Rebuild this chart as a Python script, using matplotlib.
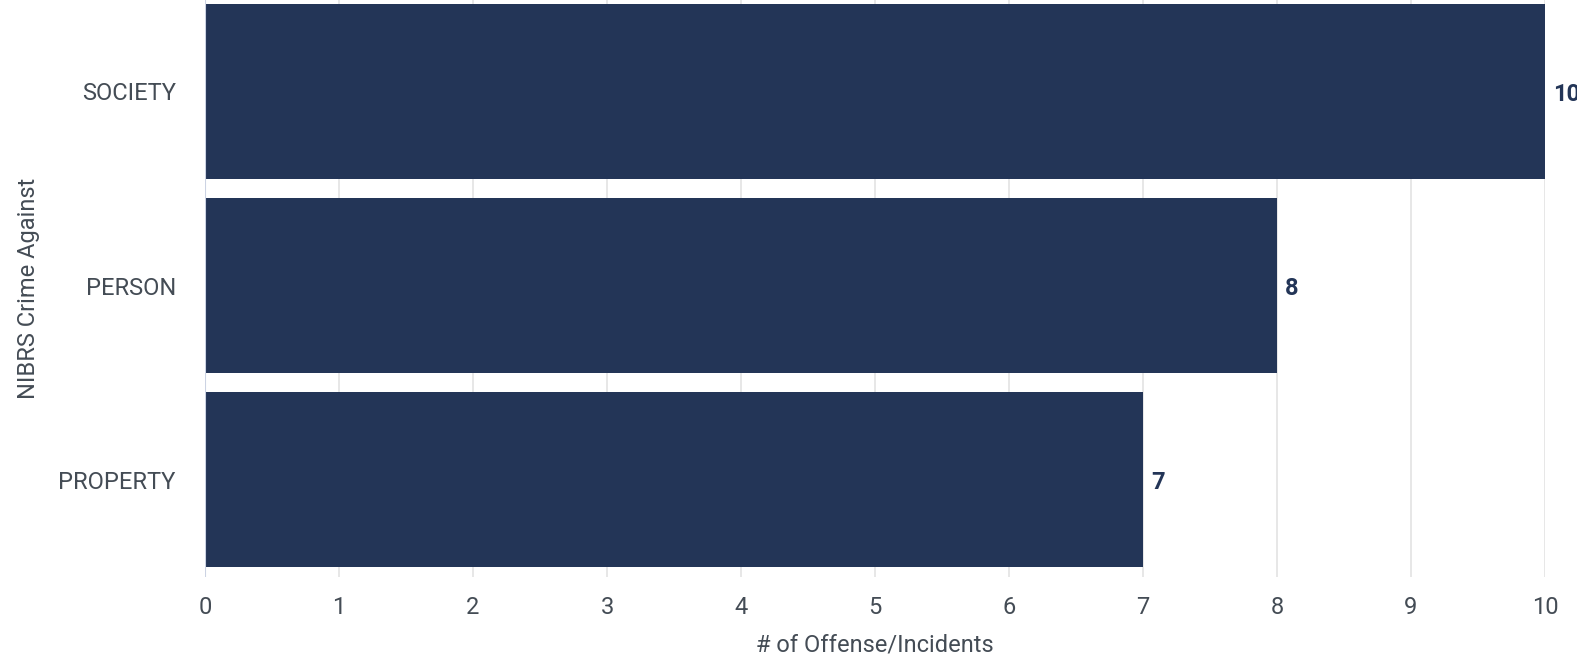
import matplotlib
matplotlib.use("Agg")
import matplotlib.pyplot as plt

categories = ["SOCIETY", "PERSON", "PROPERTY"]
counts = [10, 8, 7]
x_ticks = list(range(0, 11))

BAR_COLOR = "#233557"
TEXT_COLOR = "#444c55"

plt.rcParams["font.family"] = ["Roboto", "DejaVu Sans"]

fig = plt.figure(figsize=(15.77, 6.59), dpi=100)
ax = fig.add_axes([0.130, 0.1244, 0.8497, 0.8756])

ypos = list(range(len(categories)))
ax.barh(ypos, counts, height=0.9, color=BAR_COLOR, zorder=3)

for y, v in zip(ypos, counts):
    ax.annotate(str(v), xy=(v, y), xytext=(6, -2), textcoords="offset points",
                va="center", ha="left", fontsize=17, fontweight="bold",
                color=BAR_COLOR, annotation_clip=False)

ax.set_xlim(0, 10)
ax.set_ylim(2.5, -0.47)
ax.set_xticks(x_ticks)
ax.set_yticks(ypos)
ax.set_yticklabels(categories)
ax.tick_params(axis="both", length=0, labelsize=17, labelcolor=TEXT_COLOR)
ax.tick_params(axis="y", pad=21)
ax.tick_params(axis="x", pad=14)

ax.grid(axis="x", color="#e3e3e3", lw=1.2, zorder=0)
ax.axvline(0, color="#ccd3e3", lw=1.5, zorder=4)
for s in ax.spines.values():
    s.set_visible(False)

ax.set_xlabel("# of Offense/Incidents", fontsize=17, color=TEXT_COLOR, labelpad=10)
ax.set_ylabel("NIBRS Crime Against", fontsize=17, color=TEXT_COLOR, labelpad=13)

fig.savefig("out.png", dpi=100)
